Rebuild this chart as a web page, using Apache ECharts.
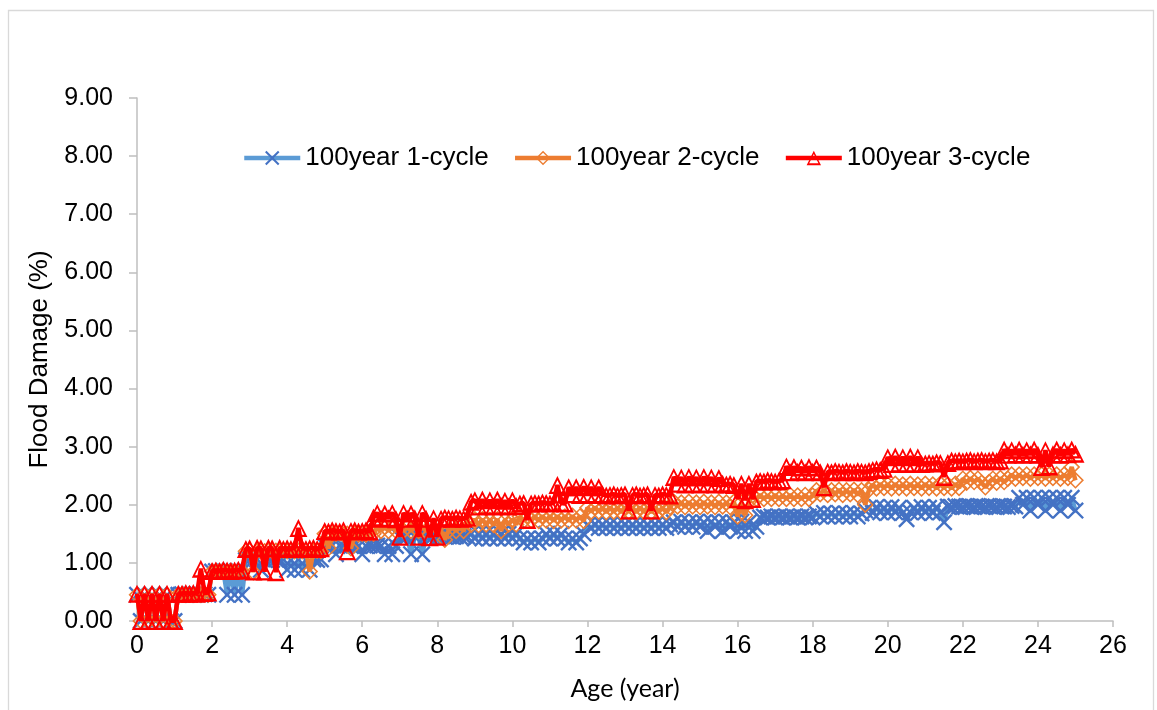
<!DOCTYPE html>
<html><head><meta charset="utf-8">
<script src="https://cdn.jsdelivr.net/npm/echarts@6/dist/echarts.min.js"></script>
<style>html,body{margin:0;padding:0;background:#fff}#c{width:1157px;height:710px}</style>
</head><body><div id="c"></div>
<script>
// Ages run from 0 to 25 years in steps of 0.1 year
const ageStart = 0;
const ageStep = 0.1;

const seriesNames = ['100year 1-cycle', '100year 2-cycle', '100year 3-cycle'];

const xTicks = [0, 2, 4, 6, 8, 10, 12, 14, 16, 18, 20, 22, 24, 26];
const yTicks = [0, 1, 2, 3, 4, 5, 6, 7, 8, 9];

// 100year 1-cycle (flood damage %)
const cycle1 = [
  0.45,0.00,0.45,0.00,0.45,0.00,0.45,0.00,0.45,0.00,
  0.00,0.45,0.46,0.45,0.46,0.45,0.46,0.45,0.46,0.45,
  0.85,0.86,0.85,0.86,0.45,0.86,0.45,0.86,0.45,1.05,
  1.06,1.05,1.06,0.88,1.05,1.06,1.05,1.06,1.05,1.06,
  0.88,1.05,0.88,1.06,0.88,1.05,0.88,1.06,1.05,1.06,
  1.30,1.29,1.30,1.15,1.30,1.29,1.30,1.29,1.30,1.29,
  1.15,1.29,1.30,1.29,1.30,1.29,1.15,1.29,1.15,1.29,
  1.45,1.46,1.45,1.15,1.45,1.46,1.15,1.46,1.45,1.46,
  1.45,1.46,1.45,1.46,1.45,1.46,1.45,1.46,1.45,1.50,
  1.42,1.50,1.42,1.50,1.42,1.50,1.42,1.50,1.42,1.50,
  1.42,1.50,1.42,1.35,1.42,1.35,1.42,1.35,1.42,1.50,
  1.42,1.50,1.42,1.50,1.42,1.35,1.42,1.35,1.42,1.50,
  1.65,1.60,1.66,1.60,1.65,1.60,1.66,1.60,1.65,1.60,
  1.66,1.60,1.65,1.60,1.66,1.60,1.65,1.60,1.66,1.60,
  1.65,1.60,1.66,1.70,1.62,1.71,1.62,1.70,1.62,1.71,
  1.62,1.70,1.55,1.71,1.62,1.70,1.55,1.71,1.62,1.70,
  1.55,1.71,1.55,1.70,1.55,1.62,1.78,1.80,1.78,1.80,
  1.78,1.80,1.78,1.80,1.78,1.80,1.78,1.80,1.78,1.80,
  1.78,1.85,1.80,1.86,1.80,1.85,1.80,1.86,1.80,1.85,
  1.80,1.86,1.80,1.85,1.90,1.95,1.86,1.96,1.87,1.95,
  1.86,1.96,1.87,1.95,1.86,1.75,1.87,1.95,1.86,1.96,
  1.87,1.95,1.86,1.96,1.87,1.70,1.97,1.96,1.98,1.97,
  1.96,1.98,1.97,1.96,1.98,1.97,1.96,1.98,1.97,1.96,
  1.98,1.97,1.96,1.98,1.97,2.12,2.00,2.12,1.90,2.12,
  2.00,2.12,1.90,2.12,2.00,2.12,1.90,2.12,2.00,2.12,
  1.90
];

// 100year 2-cycle
const cycle2 = [
  0.45,0.00,0.45,0.00,0.45,0.00,0.45,0.00,0.45,0.00,
  0.00,0.45,0.46,0.45,0.46,0.45,0.46,0.45,0.46,0.45,
  0.85,0.86,0.85,0.86,0.85,0.86,0.85,0.86,0.85,1.20,
  1.21,0.84,1.20,1.21,1.20,1.21,1.20,1.21,1.20,1.21,
  1.20,1.21,1.20,1.21,1.20,1.21,0.85,1.20,1.21,1.20,
  1.50,1.25,1.49,1.50,1.51,1.49,1.50,1.25,1.50,1.49,
  1.50,1.49,1.51,1.50,1.62,1.55,1.62,1.55,1.62,1.55,
  1.62,1.55,1.62,1.55,1.62,1.55,1.62,1.55,1.62,1.55,
  1.62,1.55,1.40,1.55,1.62,1.55,1.62,1.55,1.72,1.65,
  1.75,1.65,1.75,1.66,1.74,1.65,1.75,1.55,1.74,1.66,
  1.75,1.66,1.80,1.72,1.81,1.73,1.80,1.72,1.81,1.73,
  1.80,1.72,1.81,1.73,1.80,1.72,1.81,1.73,1.80,1.72,
  1.95,1.88,1.96,1.88,1.95,1.87,1.96,1.88,1.95,1.87,
  1.96,1.88,1.95,1.87,1.96,1.88,1.95,1.87,1.96,1.88,
  1.95,1.87,1.96,2.05,1.97,2.04,1.96,2.05,1.97,2.04,
  1.96,2.05,1.97,2.04,1.96,2.05,1.97,2.04,1.96,2.05,
  1.80,2.04,1.82,2.05,2.16,2.10,2.17,2.10,2.16,2.10,
  2.17,2.10,2.16,2.10,2.17,2.10,2.16,2.10,2.17,2.10,
  2.16,2.25,2.18,2.26,2.17,2.25,2.18,2.26,2.17,2.25,
  2.18,2.26,2.17,2.25,2.00,2.26,2.35,2.28,2.36,2.29,
  2.35,2.28,2.36,2.29,2.35,2.28,2.36,2.29,2.35,2.28,
  2.36,2.29,2.35,2.28,2.36,2.29,2.35,2.28,2.36,2.29,
  2.45,2.38,2.46,2.39,2.45,2.38,2.30,2.39,2.45,2.38,
  2.46,2.39,2.45,2.52,2.45,2.52,2.46,2.52,2.45,2.52,
  2.46,2.52,2.45,2.52,2.46,2.52,2.45,2.52,2.46,2.65,
  2.42
];

// 100year 3-cycle
const cycle3 = [
  0.47,0.00,0.47,0.00,0.47,0.00,0.47,0.00,0.47,0.00,
  0.00,0.47,0.47,0.48,0.47,0.48,0.47,0.90,0.48,0.49,
  0.86,0.87,0.86,0.88,0.87,0.86,0.87,0.88,0.87,1.24,
  1.25,0.85,1.26,1.25,0.85,1.26,1.25,0.84,1.26,1.24,
  1.25,1.24,1.26,1.60,1.25,1.24,1.25,1.26,1.24,1.25,
  1.55,1.54,1.56,1.55,1.54,1.56,1.20,1.55,1.56,1.54,
  1.55,1.56,1.54,1.78,1.86,1.76,1.85,1.77,1.86,1.75,
  1.45,1.86,1.76,1.85,1.77,1.45,1.86,1.76,1.44,1.77,
  1.45,1.76,1.78,1.77,1.76,1.78,1.77,1.76,1.78,2.05,
  2.08,1.97,2.09,1.98,2.08,1.97,2.09,1.98,2.07,1.97,
  2.08,1.98,2.02,2.03,1.74,2.02,2.03,2.02,2.04,2.03,
  2.02,2.03,2.34,2.03,2.02,2.30,2.18,2.30,2.17,2.31,
  2.18,2.30,2.17,2.30,2.18,2.16,2.17,2.18,2.16,2.17,
  2.18,1.90,2.17,2.18,2.16,2.17,2.18,1.90,2.17,2.16,
  2.18,2.17,2.16,2.48,2.36,2.47,2.35,2.48,2.36,2.47,
  2.35,2.48,2.36,2.47,2.35,2.46,2.36,2.35,2.36,2.34,
  2.10,2.36,2.08,2.36,2.10,2.40,2.41,2.40,2.42,2.41,
  2.40,2.41,2.42,2.66,2.56,2.65,2.57,2.64,2.56,2.65,
  2.57,2.64,2.56,2.30,2.57,2.56,2.58,2.57,2.56,2.58,
  2.57,2.56,2.58,2.57,2.56,2.58,2.60,2.61,2.60,2.62,
  2.82,2.70,2.83,2.71,2.82,2.70,2.83,2.71,2.82,2.70,
  2.71,2.72,2.71,2.73,2.72,2.48,2.72,2.76,2.75,2.76,
  2.75,2.76,2.77,2.75,2.76,2.77,2.75,2.76,2.77,2.75,
  2.76,2.95,2.86,2.94,2.87,2.95,2.86,2.94,2.87,2.95,
  2.86,2.65,2.94,2.66,2.87,2.95,2.86,2.94,2.87,2.95,
  2.88
];

function toPairs(vals) {
  return vals.map((v, i) => [Math.round((ageStart + i * ageStep) * 10) / 10, v]);
}

const SYM_X = 'path://M1,0 L5,4 L9,0 L10,1 L6,5 L10,9 L9,10 L5,6 L1,10 L0,9 L4,5 L0,1 Z';
const SYM_DIAMOND = 'path://M5,0 L10,5 L5,10 L0,5 Z M5,1.3 L1.3,5 L5,8.7 L8.7,5 Z';
const SYM_TRI = 'path://M5,0 L10,10 L0,10 Z M5,2.3 L1.8,8.7 L8.2,8.7 Z';

const chart = echarts.init(document.getElementById('c'), null, {renderer: 'canvas'});
const axisGray = '#BFBFBF';
const font = 'Liberation Sans, Arial';
chart.setOption({
  animation: false,
  backgroundColor: '#ffffff',
  graphic: [{
    type: 'rect', left: 6, top: 8, z: -1,
    shape: {width: 1145, height: 730},
    style: {fill: 'none', stroke: '#D9D9D9', lineWidth: 1.3}
  }],
  legend: {
    left: 242, top: 145, padding: 0,
    itemWidth: 56, itemHeight: 18, itemGap: 24,
    lineStyle: {width: 4.5},
    textStyle: {fontFamily: font, fontSize: 26, color: '#000', padding: [0, 0, 0, 0]},
    data: seriesNames
  },
  grid: {left: 137, right: 44, top: 98, bottom: 89, containLabel: false},
  xAxis: {
    type: 'value', min: xTicks[0], max: xTicks[xTicks.length - 1], interval: 2,
    name: 'Age (year)', nameLocation: 'middle', nameGap: 55,
    nameTextStyle: {fontFamily: 'Lato', fontSize: 25, color: '#000'},
    axisLine: {show: true, lineStyle: {color: axisGray, width: 1.5}},
    axisTick: {show: true, length: 6, lineStyle: {color: axisGray, width: 1.5}},
    axisLabel: {fontFamily: font, fontSize: 25, color: '#000', margin: 13},
    splitLine: {show: false}
  },
  yAxis: {
    type: 'value', min: yTicks[0], max: yTicks[yTicks.length - 1], interval: 1,
    name: 'Flood Damage (%)', nameLocation: 'middle', nameGap: 84, nameRotate: 90,
    nameTextStyle: {fontFamily: font, fontSize: 26, color: '#000'},
    axisLine: {show: true, lineStyle: {color: axisGray, width: 1.5}},
    axisTick: {show: true, length: 8, lineStyle: {color: axisGray, width: 1.5}},
    axisLabel: {fontFamily: font, fontSize: 25, color: '#000', margin: 24,
      formatter: v => v.toFixed(2)},
    splitLine: {show: false}
  },
  series: [
    {
      name: seriesNames[0], type: 'line', data: toPairs(cycle1),
      symbol: SYM_X, symbolSize: 17, showSymbol: true, showAllSymbol: true,
      lineStyle: {color: '#5B9BD5', width: 4.5},
      itemStyle: {color: '#4472C4'}, z: 2
    },
    {
      name: seriesNames[1], type: 'line', data: toPairs(cycle2),
      symbol: SYM_DIAMOND, symbolSize: 17, showSymbol: true, showAllSymbol: true,
      lineStyle: {color: '#ED7D31', width: 4.5},
      itemStyle: {color: '#ED7D31'}, z: 3
    },
    {
      name: seriesNames[2], type: 'line', data: toPairs(cycle3),
      symbol: SYM_TRI, symbolSize: 18, showSymbol: true, showAllSymbol: true,
      lineStyle: {color: '#FF0000', width: 4.5},
      itemStyle: {color: '#FF0000'}, z: 4
    }
  ]
});
</script>
</body></html>
